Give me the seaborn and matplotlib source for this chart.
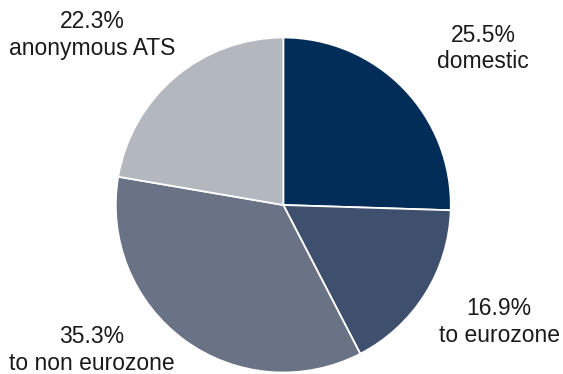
import matplotlib
matplotlib.use("Agg")
import matplotlib.pyplot as plt
import seaborn as sns

# Share of trading volume by venue type
categories = ["domestic", "to eurozone", "to non eurozone", "anonymous ATS"]
shares = [25.5, 16.9, 35.3, 22.3]
colors = ["#022d59", "#3f506e", "#6a7386", "#b3b8be"]

# label anchor (pixel x of centre, pixel y of first baseline from top)
label_pos = [(483, 42), (499, 315), (92, 343), (92, 28)]

sns.set_theme(style="white")
plt.rcParams["font.family"] = ["Liberation Sans", "DejaVu Sans"]

W, H = 563, 374
fig = plt.figure(figsize=(W / 100, H / 100), dpi=100)
fig.patch.set_facecolor("white")

cx, cy, r = 283.3, 205, 167.5
ax = fig.add_axes([(cx - r) / W, (H - cy - r) / H, 2 * r / W, 2 * r / H])
ax.pie(
    shares,
    colors=colors,
    startangle=90,
    counterclock=False,
    radius=1.0,
    wedgeprops=dict(edgecolor="white", linewidth=1.3),
)
ax.set_xlim(-1, 1)
ax.set_ylim(-1, 1)
ax.set_aspect("equal")
ax.axis("off")

for name, val, (px, py) in zip(categories, shares, label_pos):
    fig.text(px / W, 1 - py / H, f"{val:.1f}%", ha="center", va="baseline",
             fontsize=16.5, color="#1a1a1a")
    fig.text(px / W, 1 - (py + 26.5) / H, name, ha="center", va="baseline",
             fontsize=16.5, color="#1a1a1a")

fig.savefig("out.png", dpi=100, facecolor="white")
